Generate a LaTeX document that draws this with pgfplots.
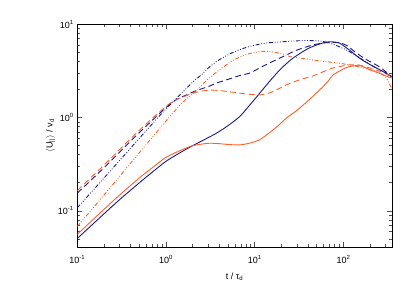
\documentclass[border=0pt]{standalone}
\usepackage{pgfplots}
\pgfplotsset{compat=1.18}
\usepackage{fontspec}
\setmainfont{Liberation Sans}
\definecolor{navy}{RGB}{25,25,140}
\definecolor{orng}{RGB}{255,95,40}
\definecolor{tickgray}{RGB}{80,80,80}
\begin{document}
\begin{tikzpicture}
\begin{axis}[
  name=ax,
  xmode=log, ymode=log,
  log basis x=10, log basis y=10,
  scale only axis,
  width=314.4pt, height=222.7pt,
  xmin=0.1, xmax=350, ymin=0.041, ymax=10,
  xtick={0.1,1,10,100},
  xticklabels={10\textsuperscript{-1},10\textsuperscript{0},10\textsuperscript{1},10\textsuperscript{2}},
  ytick={0.1,1,10},
  yticklabels={10\textsuperscript{-1},10\textsuperscript{0},10\textsuperscript{1}},
  minor xtick={0.2,0.3,0.4,0.5,0.6,0.7,0.8,0.9,2,3,4,5,6,7,8,9,20,30,40,50,60,70,80,90,200,300},
  minor ytick={0.05,0.06,0.07,0.08,0.09,0.2,0.3,0.4,0.5,0.6,0.7,0.8,0.9,2,3,4,5,6,7,8,9},
  tick label style={font=\fontsize{9}{10}\selectfont},
  xlabel={t / τ\textsubscript{d}},
  ylabel={$\langle$U\textsubscript{||}$\rangle$ / v\textsubscript{d}},
  xlabel style={font=\fontsize{9}{10}\selectfont, yshift=-2pt},
  ylabel style={font=\fontsize{9}{10}\selectfont, yshift=-4pt},
  xticklabel style={yshift=-5pt},
  tick align=inside,
  major tick length=5pt, minor tick length=3pt,
  tick style={tickgray, line width=0.7pt},
  every axis plot/.append style={smooth, tension=0.45, line width=0.9pt},
]
% navy solid
\addplot[navy] coordinates {
(0.1,0.0506)(0.2,0.093)(0.3,0.132)(0.5,0.2)(0.7,0.26)(1,0.34)(1.5,0.43)(2,0.5)(2.7,0.58)(3.7,0.68)(5,0.82)(6.8,1.03)(9,1.4)(11.4,1.83)(15,2.5)(19.2,3.25)(25,4.1)(30,4.65)(40,5.5)(50,6.0)(60,6.35)(70,6.5)(80,6.45)(90,6.3)(100,5.9)(120,5.2)(140,4.6)(166,4.1)(200,3.7)(250,3.3)(300,3.0)(350,2.75)};
% orange solid
\addplot[orng] coordinates {
(0.1,0.056)(0.2,0.104)(0.3,0.148)(0.5,0.225)(0.7,0.29)(1,0.375)(1.5,0.45)(2,0.5)(3,0.53)(4,0.525)(5,0.515)(6.8,0.51)(9,0.535)(11.4,0.58)(15,0.7)(19.2,0.85)(22.8,0.99)(30,1.2)(41,1.55)(50,1.85)(59,2.15)(67,2.45)(76,2.85)(90,3.15)(105,3.4)(117,3.52)(135,3.6)(150,3.65)(175,3.45)(200,3.25)(250,3.0)(300,2.8)(350,2.65)};
% navy dashed
\addplot[navy, dash pattern=on 6pt off 3.5pt] coordinates {
(0.1,0.155)(0.2,0.29)(0.5,0.69)(1,1.28)(1.3,1.55)(1.7,1.75)(2.2,1.95)(3,2.15)(3.7,2.34)(5.2,2.6)(7,2.85)(8.8,3.0)(12,3.5)(16,4.0)(22.8,4.7)(30,5.3)(45,6.0)(64,6.35)(90,6.35)(110,5.9)(137,5.0)(180,4.2)(255,3.5)(350,2.75)};
% orange dashed
\addplot[orng, dash pattern=on 6pt off 3.5pt] coordinates {
(0.1,0.165)(0.2,0.31)(0.5,0.73)(1,1.32)(1.3,1.55)(1.7,1.72)(2.02,1.83)(2.5,1.92)(3.1,1.97)(4,1.95)(5.7,1.87)(8,1.79)(11.4,1.75)(15,1.85)(19.2,2.07)(22.8,2.25)(32,2.54)(45.5,2.8)(76,3.4)(117,3.67)(150,3.65)(200,3.4)(279,3.05)(350,2.75)};
% navy dash-dot-dot-dot
\addplot[navy, dash pattern=on 4pt off 1.8pt on 0.8pt off 1.8pt on 0.8pt off 1.8pt on 0.8pt off 1.8pt] coordinates {
(0.1,0.108)(0.2,0.225)(0.5,0.6)(1,1.24)(2,2.4)(2.43,2.8)(3,3.4)(3.72,4.0)(5.2,4.8)(7,5.4)(8.8,5.8)(13.4,6.3)(20.8,6.5)(30,6.65)(41,6.7)(55,6.6)(70,6.3)(100,5.5)(130,4.8)(166,4.15)(220,3.5)(279,3.15)(350,2.7)};
% orange dash-dot-dot-dot
\addplot[orng, dash pattern=on 4pt off 1.8pt on 0.8pt off 1.8pt on 0.8pt off 1.8pt on 0.8pt off 1.8pt] coordinates {
(0.1,0.068)(0.2,0.148)(0.5,0.42)(1,0.92)(1.5,1.42)(2.2,1.95)(3,2.6)(4,3.25)(5.7,4.1)(8,4.75)(11.4,5.1)(15,5.1)(20.8,4.8)(25,4.5)(32,4.35)(45,4.15)(60,4.0)(90,3.83)(150,3.5)(200,3.25)(255,3.05)(300,2.7)(330,2.3)(350,2.07)};
\end{axis}
\path ([shift={(-77.3pt,-50pt)}]ax.south west) rectangle ([shift={(23.3pt,24.3pt)}]ax.north east);
\end{tikzpicture}
\end{document}
